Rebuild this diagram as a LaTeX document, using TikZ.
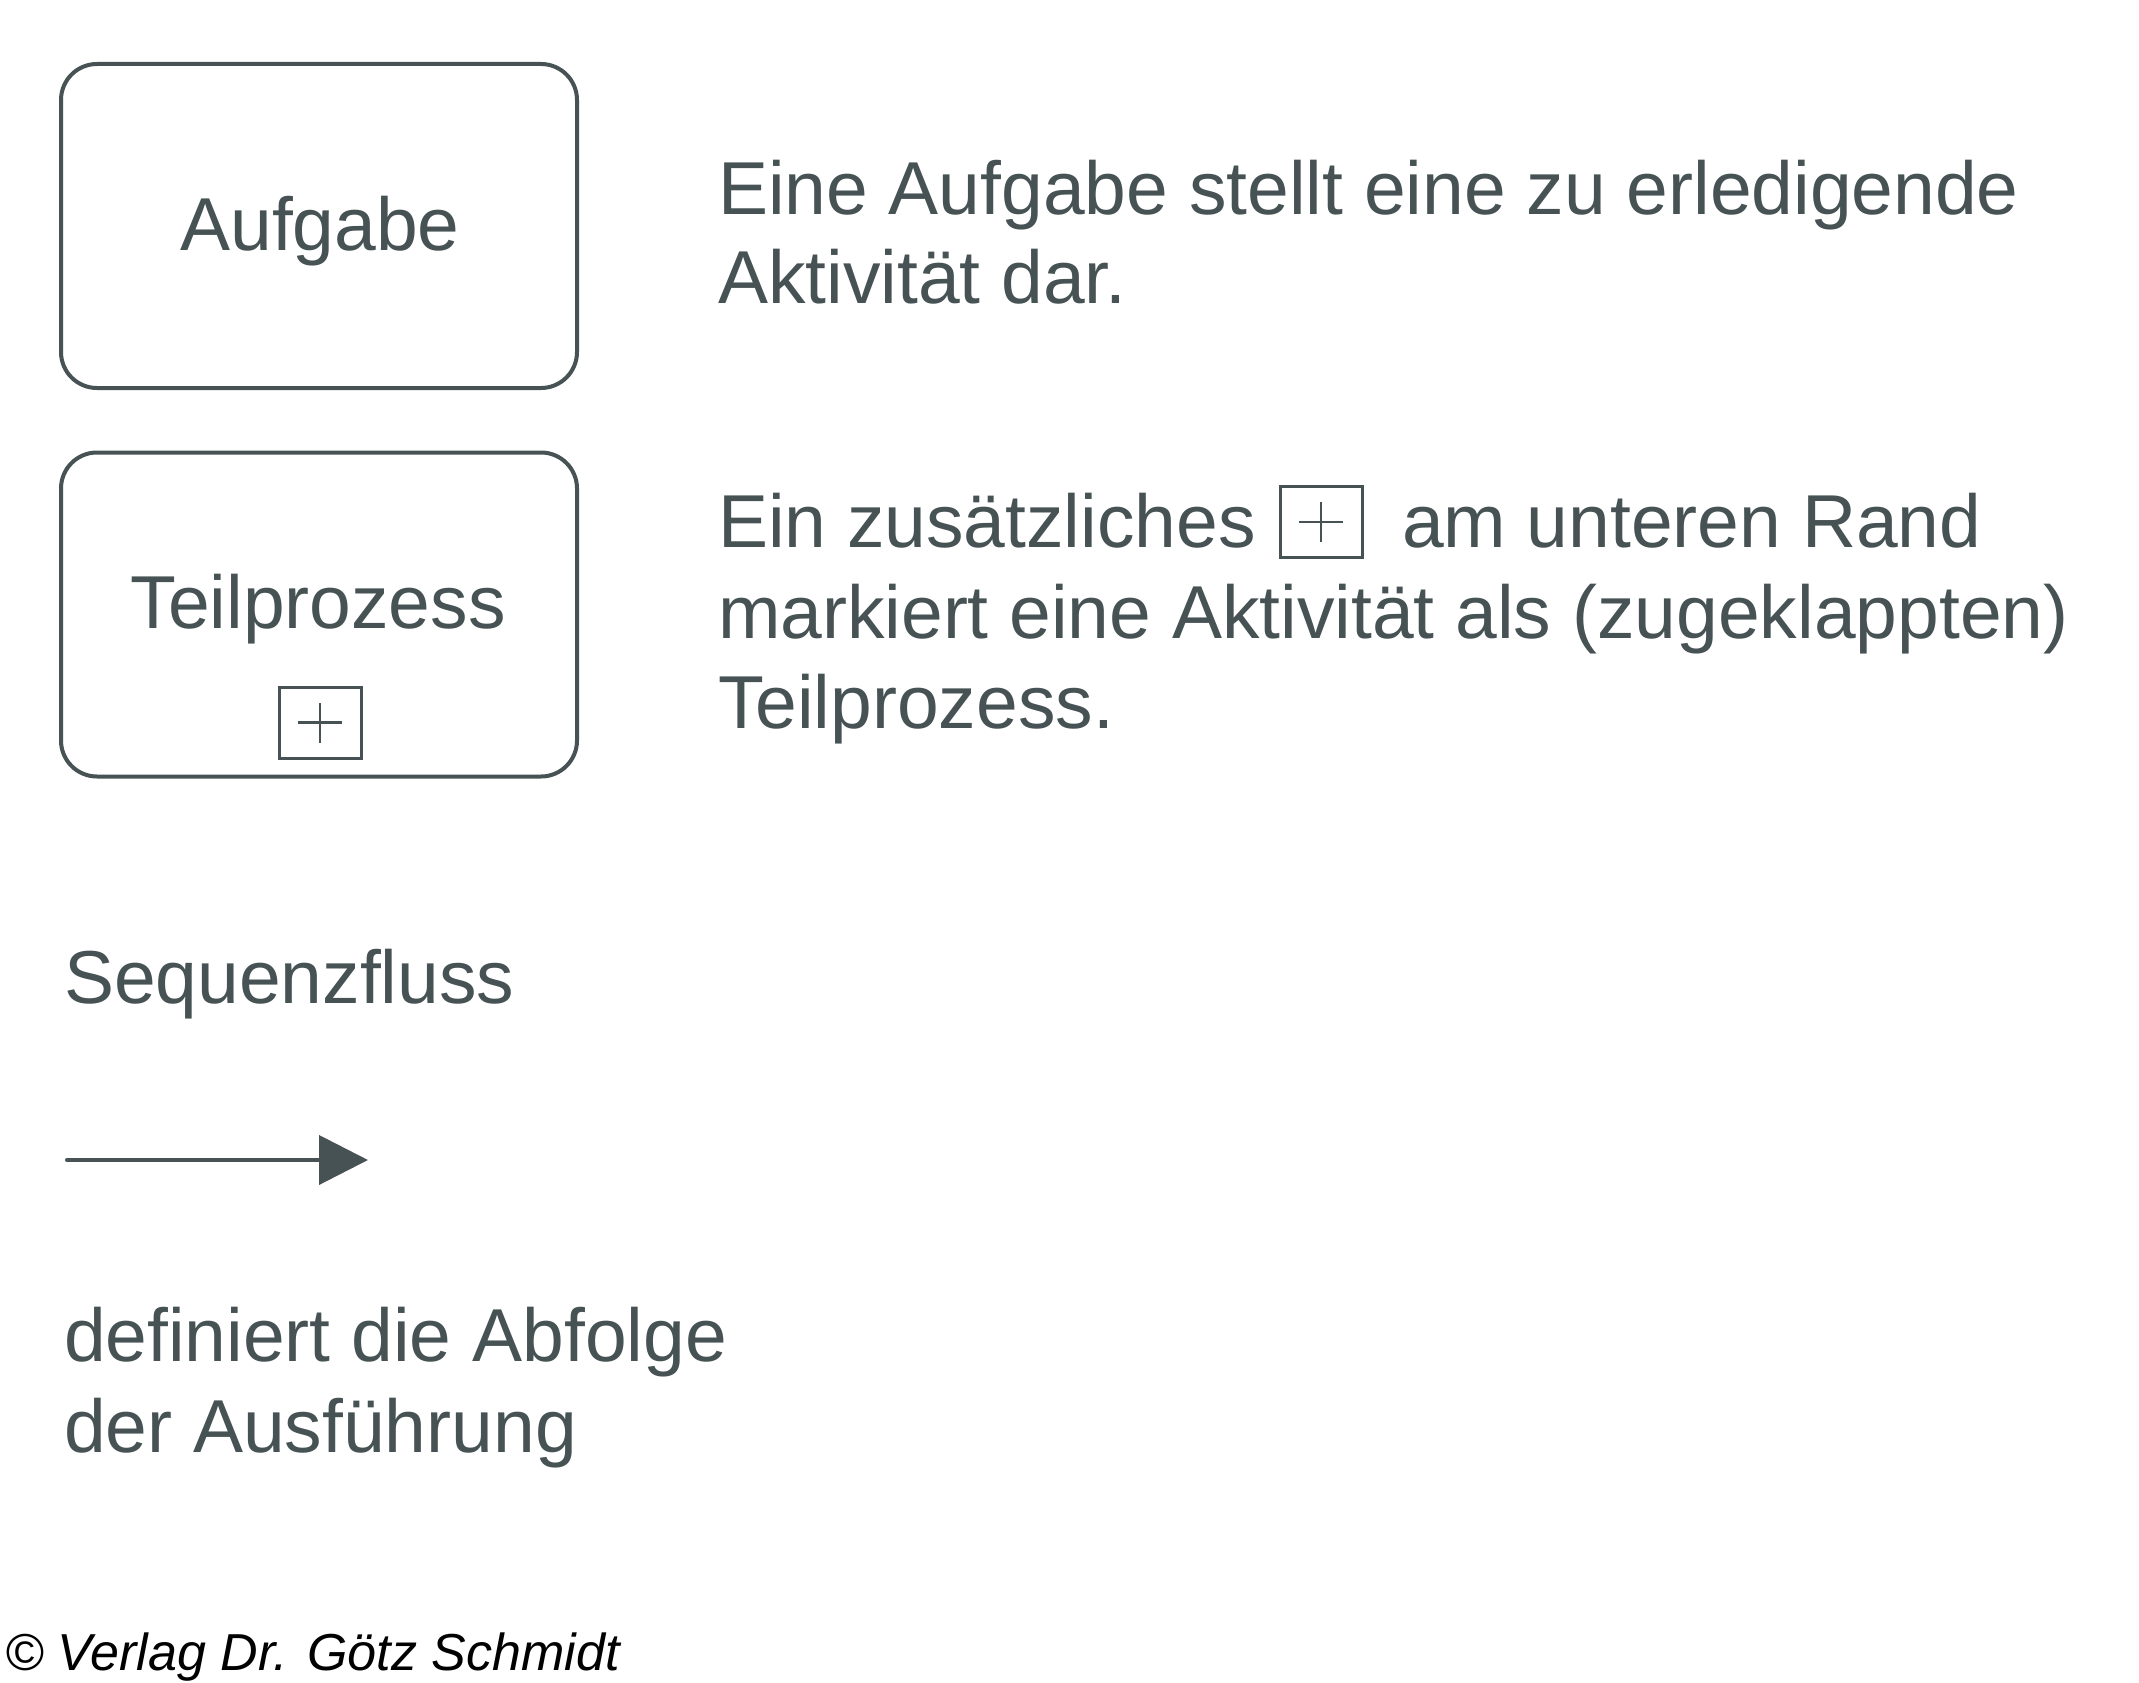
\documentclass[tikz,border=0pt]{standalone}
\usepackage{fontspec}
\setmainfont{Liberation Sans}
\usetikzlibrary{arrows.meta}
\definecolor{ink}{RGB}{70,82,83}
\begin{document}
\begin{tikzpicture}[x=1pt,y=-1pt,
  activity/.style={draw=ink, line width=4pt, rounded corners=36pt, minimum width=516pt, minimum height=324pt, inner sep=0pt},
  txt/.style={anchor=base west, inner sep=0pt, outer sep=0pt, text=ink, font=\fontsize{75}{90}\selectfont},
  ctxt/.style={anchor=base, inner sep=0pt, outer sep=0pt, text=ink, font=\fontsize{75}{90}\selectfont},
  plusbox/.style={draw=ink, line width=3pt, minimum width=82pt, minimum height=71pt, inner sep=0pt},
  plusline/.style={draw=ink, line width=2.5pt},
  flow/.style={draw=ink, line width=4pt, line cap=round, -{Triangle[length=49pt,width=49pt]}}
]
\useasboundingbox (0,0) rectangle (2139,1683);
\fill[white] (0,0) rectangle (2139,1683);

% Aufgabe
\node[activity] (aufgabe) at (319,226) {};
\node[ctxt] (aufgabe-label) at (320,250) {Aufgabe};
\node[txt] (desc1a) at (718,214) {Eine Aufgabe stellt eine zu erledigende};
\node[txt] (desc1b) at (718,303) {Aktivität dar.};

% Teilprozess
\node[activity] (teil) at (319,614.5) {};
\node[ctxt] (teil-label) at (318,628) {Teilprozess};
\node[plusbox] (teil-plus) at (320,722.5) {};
\draw[plusline] ([xshift=-22pt]teil-plus.center) -- ([xshift=22pt]teil-plus.center);
\draw[plusline] ([yshift=-20pt]teil-plus.center) -- ([yshift=20pt]teil-plus.center);

\node[txt] (desc2a) at (718,547) {Ein zusätzliches};
\node[plusbox] (inline-plus) at (1321,522) {};
\draw[plusline] ([xshift=-22pt]inline-plus.center) -- ([xshift=22pt]inline-plus.center);
\draw[plusline] ([yshift=-20pt]inline-plus.center) -- ([yshift=20pt]inline-plus.center);
\node[txt] (desc2b) at (1402,547) {am unteren Rand};
\node[txt] (desc2c) at (718,638) {markiert eine Aktivität als (zugeklappten)};
\node[txt] (desc2d) at (718,728) {Teilprozess.};

% Sequenzfluss
\node[txt] (seq) at (64,1003) {Sequenzfluss};
\coordinate (seq-start) at (67,1160);
\coordinate (seq-end) at (368,1160);
\draw[flow] (seq-start) -- (seq-end);
\node[txt] (seq1) at (64,1361) {definiert die Abfolge};
\node[txt] (seq2) at (64,1452) {der Ausführung};

% Copyright
\node[anchor=base west, inner sep=0pt, text=black, font=\fontsize{52}{60}\selectfont\itshape] (copy) at (5,1670) {© Verlag Dr. Götz Schmidt};
\end{tikzpicture}
\end{document}
